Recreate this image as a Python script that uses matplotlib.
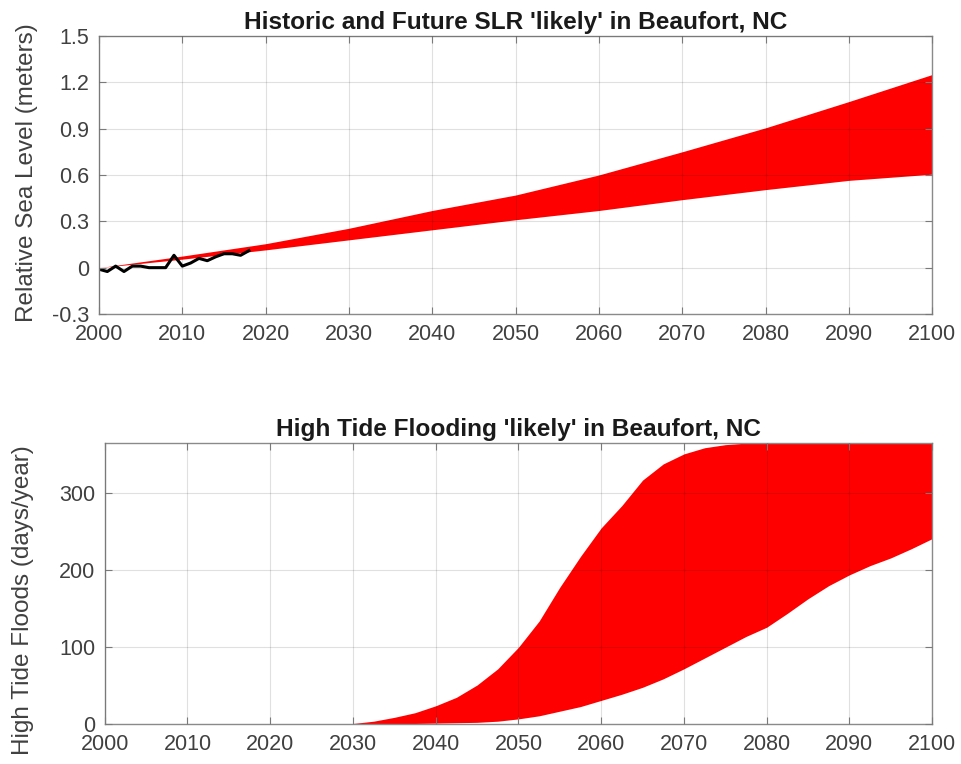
import matplotlib
matplotlib.use("Agg")
import matplotlib.pyplot as plt

plt.rcParams['font.family'] = ['Liberation Sans', 'DejaVu Sans']

# Projected sea level rise, likely range (meters)
slr_years = [2000, 2010, 2020, 2030, 2040, 2050, 2060, 2070, 2080, 2090, 2100]
slr_low = [0.0, 0.055, 0.115, 0.18, 0.245, 0.31, 0.37, 0.44, 0.505, 0.565, 0.605]
slr_high = [0.0, 0.075, 0.155, 0.255, 0.37, 0.47, 0.60, 0.75, 0.905, 1.075, 1.25]

# Observed relative sea level
hist_years = list(range(2000, 2019))
hist_slr = [-0.01, -0.025, 0.01, -0.025, 0.01, 0.01, 0.0, 0.0, 0.0, 0.08,
            0.01, 0.03, 0.06, 0.045, 0.07, 0.09, 0.09, 0.08, 0.11]

# High tide flooding, likely range (days/year)
htf_years = [2027, 2030, 2032.5, 2035, 2037.5, 2040, 2042.5, 2045, 2047.5, 2050,
             2052.5, 2055, 2057.5, 2060, 2062.5, 2065, 2067.5, 2070, 2072.5,
             2075, 2077.5, 2080, 2082.5, 2085, 2087.5, 2090, 2092.5, 2095,
             2097.5, 2100]
htf_low = [0, 0, 0.2, 0.5, 1, 1.5, 2, 2.5, 4, 7,
           11, 17, 23, 31, 39, 48, 59, 72, 86,
           100, 114, 126, 144, 163, 180, 194, 206, 216,
           228, 241]
htf_high = [0, 1, 4, 9, 15, 24, 35, 51, 72, 100,
            134, 178, 218, 255, 284, 317, 338, 351, 359,
            363, 365, 365, 365, 365, 365, 365, 365, 365,
            365, 365]

x_ticks = list(range(2000, 2101, 10))

fig = plt.figure(figsize=(9.61, 7.64), dpi=100)
ax1 = fig.add_axes([0.103, 0.589, 0.867, 0.364])
ax2 = fig.add_axes([0.109, 0.052, 0.861, 0.368])


def style(ax):
    ax.set_xlim(2000, 2100)
    ax.set_xticks(x_ticks)
    ax.grid(True, color='k', alpha=0.12, linewidth=0.8)
    ax.set_axisbelow(False)
    ax.tick_params(direction='in', length=5, width=0.8, top=True, right=True,
                   labelsize=15.5, labelcolor='#404040', color='#7a7a7a', pad=7)
    for s in ax.spines.values():
        s.set_color('#8a8a8a')
        s.set_linewidth(1.0)


ax1.fill_between(slr_years, slr_low, slr_high, color='#ff0000', linewidth=0)
ax1.plot(hist_years, hist_slr, color='k', linewidth=2.2)
ax1.set_ylim(-0.3, 1.5)
ax1.set_yticks([-0.3, 0, 0.3, 0.6, 0.9, 1.2, 1.5])
ax1.set_yticklabels(['-0.3', '0', '0.3', '0.6', '0.9', '1.2', '1.5'])
ax1.set_ylabel('Relative Sea Level (meters)', fontsize=17.5, color='#404040')
ax1.yaxis.set_label_coords(-0.073, 0.51)
ax1.set_title("Historic and Future SLR 'likely' in Beaufort, NC", fontsize=17.6,
              fontweight='bold', color='#1a1a1a', pad=5)
style(ax1)

ax2.fill_between(htf_years, htf_low, htf_high, color='#ff0000', linewidth=0)
ax2.set_ylim(0, 365)
ax2.set_yticks([0, 100, 200, 300])
ax2.set_ylabel('High Tide Floods (days/year)', fontsize=17.5, color='#404040')
ax2.yaxis.set_label_coords(-0.085, 0.44)
ax2.set_title("High Tide Flooding 'likely' in Beaufort, NC", fontsize=17.6,
              fontweight='bold', color='#1a1a1a', pad=5)
style(ax2)

fig.savefig('out.png', dpi=100)
